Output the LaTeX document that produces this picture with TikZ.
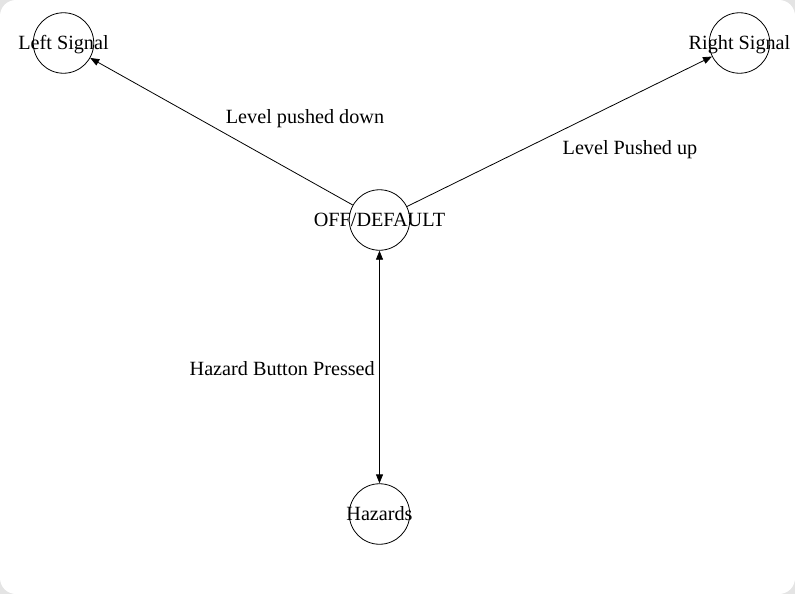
\documentclass[tikz,border=0pt]{standalone}
\usepackage{fontspec}
\setmainfont{Liberation Serif}
\usetikzlibrary{arrows.meta}
\definecolor{bggray}{RGB}{228,228,228}
\begin{document}
\begin{tikzpicture}[x=1pt,y=-1pt,
  txt/.style={font=\fontsize{20.2}{24}\selectfont, inner sep=0pt},
  stxt/.style={txt, text height=13.8pt, text depth=4.4pt, yshift=-2.2pt},
  state/.style={circle, draw, line width=0.8pt, minimum size=60.5pt, inner sep=0pt,
    label={[stxt]center:#1}},
  arr/.style={line width=0.8pt, -{Triangle[length=9pt,width=7pt]}},
  darr/.style={line width=0.8pt, {Triangle[length=9pt,width=7pt]}-{Triangle[length=9pt,width=7pt]}}]
\useasboundingbox (0,0) rectangle (795,594);
\fill[bggray] (0,0) rectangle (795,594);
\fill[white, rounded corners=16pt] (0,0) rectangle (795,594);

\node[state={Left Signal}] (L) at (63.5,43) {};
\node[state={Right Signal}] (R) at (739.5,43) {};
\node[state={OFF/DEFAULT}] (O) at (379.5,220) {};
\node[state={Hazards}] (H) at (379.5,514) {};

\draw[arr] (O) -- (L);
\draw[arr] (O) -- (R);
\draw[darr] (O) -- (H);

\node[txt] (l1) at (305,118.5) {Level pushed down};
\node[txt] (l2) at (630,149.5) {Level Pushed up};
\node[txt, anchor=east] (l3) at (375,369) {Hazard Button Pressed};
\end{tikzpicture}
\end{document}
